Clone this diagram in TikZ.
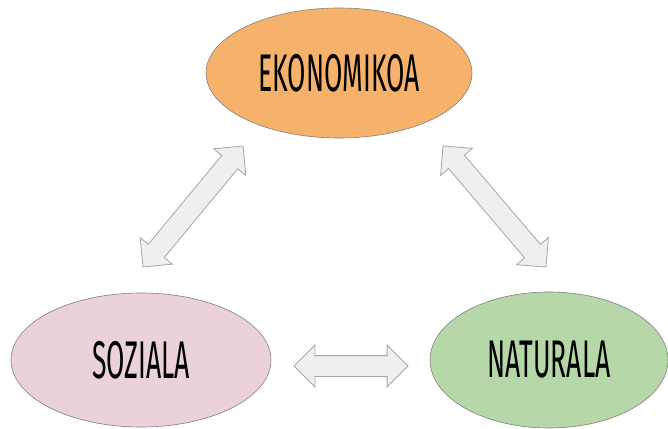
\documentclass[tikz,border=0pt]{standalone}
\usepackage{fontspec}
\setmainfont{Fira Sans}[FakeStretch=0.5]
\usetikzlibrary{shapes.geometric}
\usetikzlibrary{shapes.arrows}

\definecolor{ekoorange}{HTML}{F6B26B}
\definecolor{sozpink}{HTML}{EAD1DC}
\definecolor{natgreen}{HTML}{B6D7A8}
\definecolor{arrowfill}{HTML}{EFEFEF}

\begin{document}
\begin{tikzpicture}[x=1pt,y=1pt,
  field/.style={ellipse,draw=gray,line width=0.6pt,inner sep=0pt,font=\fontsize{53}{53}\selectfont},
  link/.style={double arrow,draw=black!35,fill=arrowfill,line width=0.8pt,inner xsep=0pt,inner ysep=10pt,
    double arrow head extend=10.5pt}]
\useasboundingbox (0,0) rectangle (668,428);
\node[field,fill=ekoorange,minimum width=266pt,minimum height=130pt] (eko) at (339,355) {EKONOMIKOA};
\node[field,fill=sozpink,minimum width=260pt,minimum height=134pt] (soz) at (141,68) {SOZIALA};
\node[field,fill=natgreen,minimum width=238pt,minimum height=136pt] (nat) at (549,68) {NATURALA};
\node[link,minimum height=157pt,rotate=50.4] (ekosoz) at (193,221.5) {};
\node[link,minimum height=159pt,rotate=-49.6] (ekonat) at (494.5,221.5) {};
\node[link,minimum height=114pt] (soznat) at (351,62) {};
\end{tikzpicture}
\end{document}
